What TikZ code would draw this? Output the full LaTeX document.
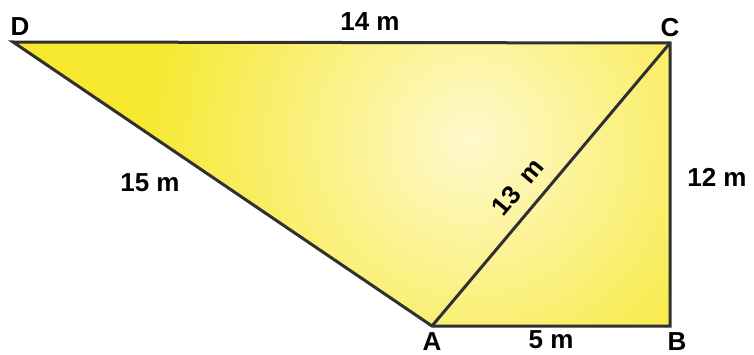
\documentclass[tikz,border=0pt]{standalone}
\usepackage{fontspec}
\setmainfont{Liberation Sans}
\usepackage{tikz}
\usetikzlibrary{positioning}

\definecolor{fieldyellow}{RGB}{246,232,46}
\definecolor{fieldlight}{RGB}{255,249,205}
\definecolor{edgegray}{RGB}{48,48,48}

\begin{document}
\begin{tikzpicture}[
    x=0.5pt, y=0.5pt,
    edge/.style={draw=edgegray, line width=1.5pt, line join=miter},
    lbl/.style={font=\fontsize{13}{15}\selectfont\bfseries, inner sep=0pt, text=black},
]
    \useasboundingbox (0,0) rectangle (754,354);

    % corners of the field
    \coordinate (D) at (13,312);
    \coordinate (C) at (670,311);
    \coordinate (B) at (670,28);
    \coordinate (A) at (432,28);

    % yellow fill with a light spot
    \fill[fieldyellow] (D) -- (C) -- (B) -- (A) -- cycle;
    \begin{scope}
        \clip (D) -- (C) -- (B) -- (A) -- cycle;
        \shade[inner color=fieldlight, outer color=fieldyellow] (470,214) circle (330);
    \end{scope}

    \draw[edge] (D) -- (C) -- (B) -- (A) -- cycle;
    \draw[edge] (A) -- (C);

    % vertex names
    \node[lbl] (dlab) at (20,327) {D};
    \node[lbl] (clab) at (670,326) {C};
    \node[lbl] (blab) at (677,12) {B};
    \node[lbl] (alab) at (432,12) {A};

    % side lengths
    \node[lbl] (dc) at (370,332) {14 m};
    \node[lbl] (da) at (150,171) {15 m};
    \node[lbl, rotate=50] (ac) at (518,167) {13\hspace{0.5em}m};
    \node[lbl] (cb) at (717,177) {12 m};
    \node[lbl] (ab) at (551,14) {5 m};

\end{tikzpicture}
\end{document}
